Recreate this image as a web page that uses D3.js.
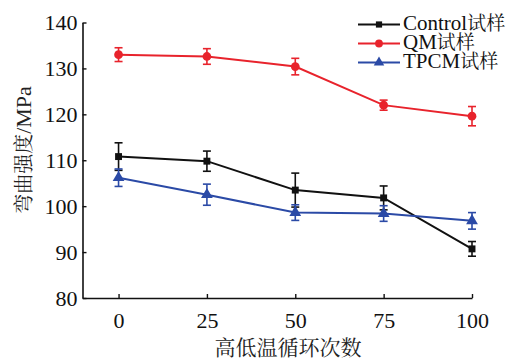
<!DOCTYPE html>
<html>
<head>
<meta charset="utf-8">
<script src="https://cdn.jsdelivr.net/npm/d3@7"></script>
<style>
  html, body { margin: 0; padding: 0; background: #fff; }
  svg { display: block; }
</style>
</head>
<body>
<svg id="chart" width="513" height="360"></svg>
<script>
// Flexural strength vs. number of high/low temperature cycles
const cycles = [0, 25, 50, 75, 100];
const seriesNames = ["Control", "QM", "TPCM"];
const nameSuffix = "试样";
const controlMean = [110.8, 109.8, 103.5, 101.8, 90.7];
const controlErr  = [3.0, 2.2, 3.7, 2.6, 1.6];
const qmMean      = [133.0, 132.6, 130.4, 122.0, 119.6];
const qmErr       = [1.5, 1.7, 1.8, 1.1, 2.1];
const tpcmMean    = [106.2, 102.5, 98.6, 98.4, 96.8];
const tpcmErr     = [1.9, 2.3, 1.7, 1.7, 1.8];
const yTicks = [80, 90, 100, 110, 120, 130, 140];
const xTicks = [0, 25, 50, 75, 100];
const xTitle = "高低温循环次数";
const yTitleCjk = "弯曲强度";
const yTitleUnit = "/MPa";

const colors = ["#111111", "#e8232c", "#2b4aa6"];
const markers = [d3.symbolSquare, d3.symbolCircle, d3.symbolTriangle];
const markerSizes = [48, 60, 60];
const means = [controlMean, qmMean, tpcmMean];
const errs = [controlErr, qmErr, tpcmErr];

const LATIN = "\"Liberation Serif\"";
const CJK = "\"Noto Serif CJK SC\"";

const series = means.map((m, i) => ({
  name: seriesNames[i],
  color: colors[i],
  symbol: markers[i],
  size: markerSizes[i],
  points: cycles.map((c, j) => ({ x: c, v: m[j], e: errs[i][j] }))
}));

const svg = d3.select("#chart");
const plotLeft = 82.5, plotRight = 472, plotTop = 22.5, plotBottom = 298;

const x = d3.scaleLinear().domain([-10.2, 100]).range([plotLeft, plotRight]);
const y = d3.scaleLinear().domain([80, 140]).range([plotBottom, plotTop]);

// Axes (ticks point inward)
const yAxis = svg.append("g")
  .attr("transform", `translate(${plotLeft},0)`)
  .call(d3.axisLeft(y).tickValues(yTicks).tickSize(-4).tickPadding(5).tickSizeOuter(0));
const xAxis = svg.append("g")
  .attr("transform", `translate(0,${plotBottom})`)
  .call(d3.axisBottom(x).tickValues(xTicks).tickSize(-4).tickPadding(10).tickSizeOuter(0));

[yAxis, xAxis].forEach(g => {
  g.attr("font-family", null).attr("font-size", null);
  g.select(".domain").attr("stroke", "#111").attr("stroke-width", 1.6);
  g.selectAll(".tick line").attr("stroke", "#111").attr("stroke-width", 1.4);
  g.selectAll(".tick text")
    .attr("fill", "#111")
    .style("font-family", LATIN)
    .style("font-size", "22px");
});
xAxis.selectAll(".tick text").attr("dy", "0.9em");

// Axis titles
svg.append("text")
  .attr("x", 288).attr("y", 355)
  .attr("text-anchor", "middle")
  .style("font-family", CJK)
  .style("font-size", "21px")
  .attr("fill", "#222")
  .text(xTitle);

const yt = svg.append("text")
  .attr("transform", "translate(31,150) rotate(-90)")
  .attr("text-anchor", "middle")
  .attr("fill", "#222");
yt.append("tspan").style("font-family", CJK).style("font-size", "20px").text(yTitleCjk);
yt.append("tspan").style("font-family", LATIN).style("font-size", "22px").text(yTitleUnit);

// Lines, error bars and markers
const line = d3.line().x(d => x(d.x)).y(d => y(d.v));
const capW = 4;

series.forEach(s => {
  const g = svg.append("g");
  g.append("path")
    .datum(s.points)
    .attr("fill", "none")
    .attr("stroke", s.color)
    .attr("stroke-width", 2)
    .attr("d", line);

  const eb = g.selectAll(".eb").data(s.points).enter().append("g");
  eb.append("line")
    .attr("x1", d => x(d.x)).attr("x2", d => x(d.x))
    .attr("y1", d => y(d.v - d.e)).attr("y2", d => y(d.v + d.e))
    .attr("stroke", s.color).attr("stroke-width", 1.6);
  [-1, 1].forEach(sg => {
    eb.append("line")
      .attr("x1", d => x(d.x) - capW).attr("x2", d => x(d.x) + capW)
      .attr("y1", d => y(d.v + sg * d.e)).attr("y2", d => y(d.v + sg * d.e))
      .attr("stroke", s.color).attr("stroke-width", 1.6);
  });

  g.selectAll(".mk").data(s.points).enter().append("path")
    .attr("transform", d => `translate(${x(d.x)},${y(d.v)})`)
    .attr("d", d3.symbol().type(s.symbol).size(s.size))
    .attr("fill", s.color);
});

// Legend
const legend = svg.append("g");
const legY = [24.5, 43.5, 62.5];
series.forEach((s, i) => {
  const row = legend.append("g").attr("transform", `translate(0,${legY[i]})`);
  row.append("line")
    .attr("x1", 358).attr("x2", 400)
    .attr("y1", 0).attr("y2", 0)
    .attr("stroke", s.color).attr("stroke-width", 2);
  row.append("path")
    .attr("transform", "translate(379,0)")
    .attr("d", d3.symbol().type(s.symbol).size(s.size * 0.8))
    .attr("fill", s.color);
  const t = row.append("text")
    .attr("x", 403).attr("y", 0)
    .attr("dy", "0.35em")
    .attr("fill", "#111");
  t.append("tspan").style("font-family", LATIN).style("font-size", "21px").text(s.name);
  t.append("tspan").style("font-family", CJK).style("font-size", "19px").text(nameSuffix);
});
</script>
</body>
</html>
